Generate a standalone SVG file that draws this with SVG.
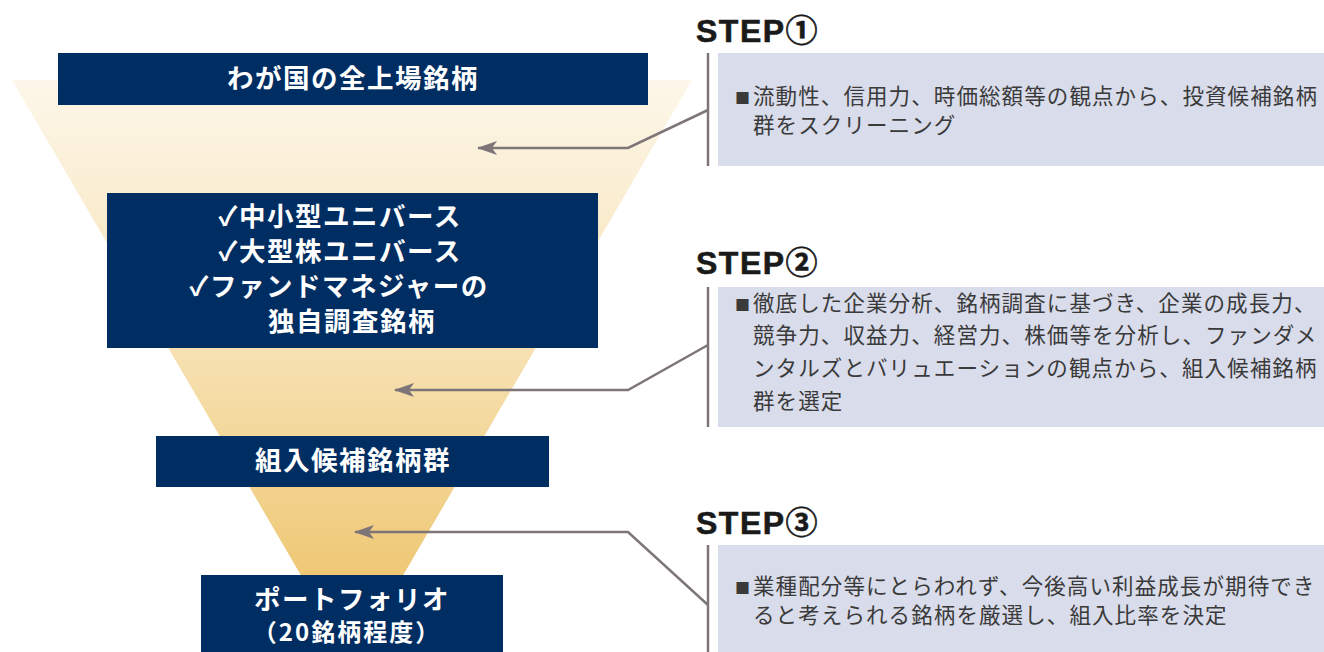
<svg xmlns="http://www.w3.org/2000/svg" width="1324" height="652" viewBox="0 0 1324 652">
<defs>
<linearGradient id="fg" x1="0" y1="80" x2="0" y2="640" gradientUnits="userSpaceOnUse">
<stop offset="0" stop-color="#fdf7ea"/>
<stop offset="0.5" stop-color="#f6e0b0"/>
<stop offset="1" stop-color="#ecc163"/>
</linearGradient>
<marker id="ah" viewBox="0 0 20 14" refX="19" refY="7" markerWidth="20" markerHeight="14" markerUnits="userSpaceOnUse" orient="auto">
<path d="M20,7 L0,0 L5,7 L0,14 Z" fill="#7d7577"/>
</marker>
</defs>
<style>
.box{fill:#002d62}
.bt{fill:#fff;font-family:"Noto Sans CJK JP","DejaVu Sans",sans-serif;font-weight:bold;font-size:26.5px;text-anchor:middle;letter-spacing:1.5px}
.panel{fill:#d9dcea}
.bar{stroke:#7d7577;stroke-width:2.5;fill:none}
.pt{fill:#3a3a3a;font-family:"Noto Sans CJK JP",sans-serif;font-size:21.5px;letter-spacing:1.1px}
.sq{font-size:15px;letter-spacing:3px}
.step{fill:#1a1a1a;stroke:#1a1a1a;stroke-width:0.6;font-family:"Liberation Sans","Noto Sans CJK JP",sans-serif;font-weight:bold;font-size:32px;letter-spacing:1.5px}
.conn{stroke:#7d7577;stroke-width:2.5;fill:none}
</style>
<polygon id="funnel" points="12,80 692,80 356,656 348,656" fill="url(#fg)"/>

<g id="connectors">
<polyline class="conn" points="708,110 628,148 478,148" marker-end="url(#ah)"/>
<polyline class="conn" points="708,345 628,390 395,390" marker-end="url(#ah)"/>
<polyline class="conn" points="708,605 628,532 355,532" marker-end="url(#ah)"/>
</g>

<g id="node-all">
<rect class="box" x="58" y="53" width="590" height="52"/>
<text class="bt" x="353" y="88">わが国の全上場銘柄</text>
</g>
<g id="node-universe">
<rect class="box" x="107" y="193" width="491" height="155"/>
<text class="bt" x="340" y="226">✓中小型ユニバース</text>
<text class="bt" x="340" y="261">✓大型株ユニバース</text>
<text class="bt" x="339" y="296">✓ファンドマネジャーの</text>
<text class="bt" x="352" y="331">独自調査銘柄</text>
</g>
<g id="node-candidates">
<rect class="box" x="156" y="436" width="393" height="51"/>
<text class="bt" x="353" y="470">組入候補銘柄群</text>
</g>
<g id="node-portfolio">
<rect class="box" x="201" y="575" width="302" height="77"/>
<text class="bt" x="352" y="609">ポートフォリオ</text>
<text class="bt" x="347" y="641" style="font-size:24px;letter-spacing:2px">（20銘柄程度）</text>
</g>

<g id="step1">
<text class="step" x="696" y="42">STEP①</text>
<rect class="panel" x="718" y="53" width="606" height="113"/>
<line class="bar" x1="708" y1="53" x2="708" y2="166"/>
<text class="pt" x="735" y="104"><tspan class="sq">■</tspan>流動性、信用力、時価総額等の観点から、投資候補銘柄</text>
<text class="pt" x="753" y="133">群をスクリーニング</text>
</g>
<g id="step2">
<text class="step" x="696" y="274">STEP②</text>
<rect class="panel" x="718" y="287" width="606" height="140"/>
<line class="bar" x1="708" y1="287" x2="708" y2="427"/>
<text class="pt" x="735" y="311"><tspan class="sq">■</tspan>徹底した企業分析、銘柄調査に基づき、企業の成長力、</text>
<text class="pt" x="753" y="343">競争力、収益力、経営力、株価等を分析し、ファンダメ</text>
<text class="pt" x="753" y="376">ンタルズとバリュエーションの観点から、組入候補銘柄</text>
<text class="pt" x="753" y="409">群を選定</text>
</g>
<g id="step3">
<text class="step" x="696" y="534">STEP③</text>
<rect class="panel" x="718" y="545" width="606" height="107"/>
<line class="bar" x1="708" y1="545" x2="708" y2="652"/>
<text class="pt" x="735" y="594"><tspan class="sq">■</tspan>業種配分等にとらわれず、今後高い利益成長が期待でき</text>
<text class="pt" x="753" y="623">ると考えられる銘柄を厳選し、組入比率を決定</text>
</g>
</svg>
